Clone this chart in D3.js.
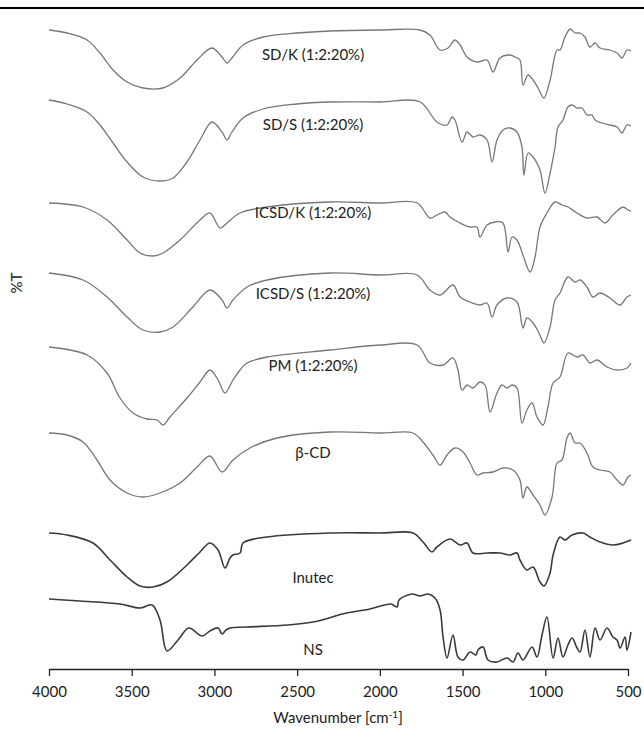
<!DOCTYPE html>
<html>
<head>
<meta charset="utf-8">
<script src="https://cdn.jsdelivr.net/npm/d3@7"></script>
<style>
  body { margin: 0; background: #fff; }
  svg { font-family: Lato, "Open Sans", sans-serif; }
</style>
</head>
<body>
<div id="chart"></div>
<script>
// FTIR spectra, stacked; values are %T with each trace's vertical offset included
var sdK = [[4000,639],[3891,636],[3770,629],[3692,616],[3613,599],[3528,587],[3432,581],[3311,581],[3208,591],[3105,609],[3015,621],[2954,612],[2924,606],[2894,611],[2827,624],[2706,632],[2501,636],[2301,638],[1999,639],[1757,639],[1697,634],[1636,619],[1588,621],[1546,629],[1515,624],[1473,612],[1413,607],[1352,609],[1316,597],[1274,611],[1213,614],[1183,612],[1153,609],[1135,584],[1104,594],[1074,589],[1044,581],[1008,571],[971,589],[929,619],[911,619],[881,632],[850,640],[820,636],[790,636],[760,632],[730,622],[699,626],[669,621],[609,619],[566,616],[536,611],[506,619],[482,618]];

var sdS = [[4000,569],[3891,565],[3770,557],[3692,544],[3613,526],[3528,507],[3432,492],[3329,488],[3250,491],[3166,507],[3087,529],[3015,547],[2954,537],[2924,529],[2894,537],[2827,551],[2706,560],[2501,565],[2301,567],[1999,567],[1757,567],[1655,547],[1594,544],[1564,552],[1546,549],[1503,527],[1473,537],[1437,532],[1395,534],[1352,529],[1322,507],[1292,529],[1256,539],[1213,541],[1171,537],[1141,522],[1129,494],[1104,516],[1074,512],[1032,499],[1002,476],[971,496],[941,522],[923,542],[893,549],[863,562],[838,564],[808,561],[778,561],[748,554],[718,554],[699,549],[657,546],[609,544],[566,542],[536,536],[506,544],[482,543]];

var icsdK = [[4000,466],[3794,462],[3649,449],[3528,429],[3450,416],[3371,413],[3311,416],[3208,429],[3087,449],[3027,456],[2966,441],[2924,446],[2845,456],[2682,462],[2301,467],[1999,466],[1775,466],[1697,451],[1655,454],[1606,457],[1576,452],[1515,446],[1455,442],[1413,442],[1395,432],[1352,444],[1304,447],[1256,446],[1225,417],[1201,432],[1171,429],[1135,414],[1092,397],[1062,412],[1032,442],[990,456],[941,467],[899,464],[863,462],[808,456],[748,451],[687,452],[639,446],[591,454],[530,462],[500,459],[482,458]];

var icsdS = [[4000,396],[3794,389],[3649,372],[3528,352],[3432,339],[3329,337],[3250,342],[3130,362],[3027,379],[2954,369],[2924,361],[2888,369],[2803,382],[2682,389],[2301,396],[1999,394],[1775,394],[1697,379],[1636,374],[1558,384],[1515,372],[1455,367],[1395,364],[1352,366],[1322,352],[1292,364],[1231,371],[1171,367],[1135,341],[1111,351],[1074,346],[1038,336],[1008,326],[971,342],[941,369],[911,376],[863,392],[820,387],[790,389],[748,382],[712,372],[669,376],[609,371],[548,364],[506,372],[482,374]];

var pm = [[4000,322],[3770,314],[3649,296],[3571,271],[3492,256],[3408,250],[3347,249],[3311,244],[3269,252],[3166,271],[3087,287],[3027,299],[2978,289],[2936,276],[2888,289],[2845,299],[2803,306],[2682,312],[2301,319],[1999,324],[1775,324],[1697,306],[1618,304],[1558,311],[1528,299],[1503,279],[1473,284],[1437,281],[1395,287],[1364,284],[1334,257],[1292,276],[1262,284],[1231,281],[1201,284],[1171,281],[1141,246],[1111,259],[1080,266],[1050,252],[1014,244],[984,262],[953,286],[911,292],[863,316],[808,312],[772,314],[730,306],[687,309],[627,302],[566,299],[506,301],[482,306]];

var betaCD = [[4000,236],[3891,234],[3794,227],[3710,209],[3631,189],[3528,176],[3432,172],[3329,176],[3208,186],[3105,202],[3027,213],[2954,197],[2888,209],[2785,221],[2622,231],[2301,237],[1999,236],[1800,236],[1739,227],[1679,214],[1636,204],[1594,214],[1546,221],[1497,217],[1455,206],[1413,194],[1376,196],[1316,197],[1256,201],[1195,199],[1153,189],[1135,171],[1111,182],[1074,174],[1032,164],[1002,154],[959,172],[929,206],[899,209],[869,231],[850,236],[820,226],[790,226],[748,216],[712,202],[669,199],[609,197],[566,189],[530,184],[500,192],[482,194]];

var inutec = [[4000,136],[3891,134],[3734,126],[3631,109],[3528,92],[3450,83],[3371,82],[3287,87],[3166,104],[3087,117],[3027,126],[2978,119],[2936,101],[2906,111],[2888,114],[2845,116],[2827,126],[2682,132],[2301,136],[1999,136],[1800,136],[1739,127],[1685,117],[1655,122],[1576,130],[1515,124],[1473,126],[1437,116],[1352,116],[1274,116],[1213,114],[1171,116],[1153,109],[1111,99],[1074,102],[1032,87],[1008,83],[971,96],[953,114],[911,132],[881,129],[838,134],[772,136],[730,132],[669,127],[591,124],[530,126],[482,129]];

var ns = [[4000,70],[3813,68],[3571,65],[3450,61],[3377,64],[3329,49],[3287,18],[3220,29],[3154,41],[3075,33],[3027,38],[2978,41],[2954,35],[2930,39],[2906,41],[2803,42],[2555,44],[2404,47],[2307,51],[2229,55],[2060,60],[1933,65],[1896,62],[1884,69],[1806,75],[1757,73],[1709,75],[1667,71],[1636,59],[1618,32],[1594,11],[1558,34],[1528,12],[1497,9],[1455,17],[1419,14],[1407,19],[1376,22],[1346,9],[1292,7],[1231,11],[1195,7],[1165,16],[1135,9],[1080,22],[1050,12],[1020,34],[990,52],[953,11],[923,31],[893,12],[863,24],[838,31],[808,21],[790,17],[760,39],[730,12],[699,41],[669,29],[627,41],[591,32],[566,29],[548,21],[518,32],[506,19],[482,37]];

var names = ['SD/K (1:2:20%)', 'SD/S (1:2:20%)', 'ICSD/K (1:2:20%)', 'ICSD/S (1:2:20%)', 'PM (1:2:20%)', '\u03b2-CD', 'Inutec', 'NS'];
var series = [sdK, sdS, icsdK, icsdS, pm, betaCD, inutec, ns];
var labelWave = 2404;
var labelT = [614, 544, 456, 375, 303, 216, 91, 19];
var xTicks = [4000, 3500, 3000, 2500, 2000, 1500, 1000, 500];

var width = 644;
var height = 735;

var svg = d3.select('#chart')
    .append('svg')
    .attr('width', width)
    .attr('height', height);

var x = d3.scaleLinear()
    .domain([4000, 500])
    .range([49, 628]);

var y = d3.scaleLinear()
    .domain([0, 660])
    .range([669, 9]);

// rule across the top
svg.append('line')
    .attr('x1', 0)
    .attr('x2', width)
    .attr('y1', 8)
    .attr('y2', 8)
    .attr('stroke', '#000')
    .attr('stroke-width', 2);

var line = d3.line()
    .x(function(d) { return x(d[0]); })
    .y(function(d) { return y(d[1]); })
    .curve(d3.curveCatmullRom.alpha(0.5));

svg.append('g')
    .selectAll('path')
    .data(series)
    .enter()
    .append('path')
    .attr('d', line)
    .attr('fill', 'none')
    .attr('stroke', function(d, i) { return i >= 6 ? '#3a3a3a' : '#777'; })
    .attr('stroke-width', function(d, i) { return i >= 6 ? 1.6 : 1.3; })
    .attr('stroke-linejoin', 'round');

svg.append('g')
    .selectAll('text')
    .data(names)
    .enter()
    .append('text')
    .attr('x', x(labelWave))
    .attr('y', function(d, i) { return y(labelT[i]); })
    .attr('dy', '0.35em')
    .attr('text-anchor', 'middle')
    .attr('font-size', 15)
    .attr('fill', '#222')
    .text(function(d) { return d; });

var xAxis = d3.axisBottom(x)
    .tickValues(xTicks)
    .tickSize(7)
    .tickSizeOuter(0)
    .tickPadding(10)
    .tickFormat(d3.format('d'));

var gx = svg.append('g')
    .attr('transform', 'translate(0,669)')
    .call(xAxis);

gx.select('.domain').attr('stroke', '#222').attr('stroke-width', 1.3);
gx.selectAll('.tick line').attr('stroke', '#222').attr('stroke-width', 1.3);
gx.selectAll('.tick text')
    .attr('font-size', 15)
    .attr('font-family', 'Lato, sans-serif')
    .attr('fill', '#222');

var xLabel = svg.append('text')
    .attr('x', 338)
    .attr('y', 723)
    .attr('text-anchor', 'middle')
    .attr('font-size', 15)
    .attr('fill', '#222');
xLabel.append('tspan').text('Wavenumber [cm');
xLabel.append('tspan').attr('dy', -5).attr('font-size', 10).text('-1');
xLabel.append('tspan').attr('dy', 5).text(']');

svg.append('text')
    .attr('transform', 'translate(22,283) rotate(-90)')
    .attr('text-anchor', 'middle')
    .attr('font-size', 15)
    .attr('fill', '#222')
    .text('%T');
</script>
</body>
</html>
